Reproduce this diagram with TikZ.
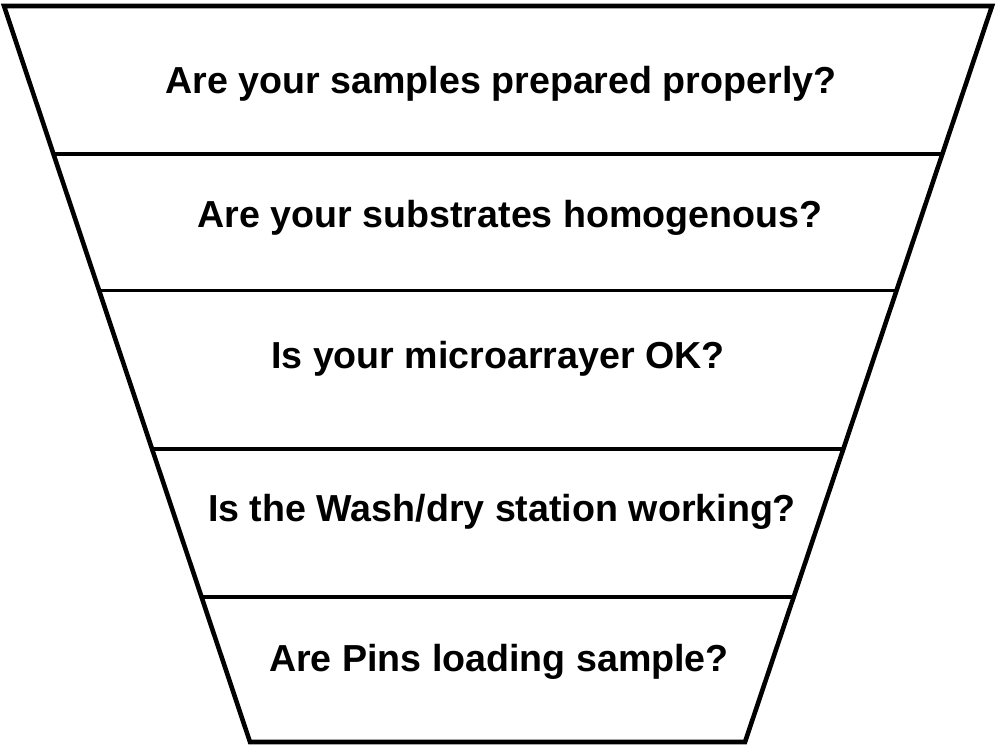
\documentclass[tikz,border=0pt]{standalone}
\usepackage{fontspec}
\setmainfont{Liberation Sans}
\usetikzlibrary{calc}
\tikzset{
  funnel/.style={
    line width=1.3pt,
    line join=miter
  },
  divider/.style={
    line width=0.9pt
  },
  question/.style={
    font=\fontsize{10.7}{12}\selectfont\bfseries,
    inner sep=0pt
  }
}
\begin{document}
\begin{tikzpicture}
    \useasboundingbox (0,0) rectangle (10,7.48);
    \coordinate (tl) at (0.04,7.42);
    \coordinate (tr) at (9.92,7.42);
    \coordinate (br) at (7.45,0.06);
    \coordinate (bl) at (2.50,0.06);
    \draw[funnel] (tl)--(tr)--(br)--(bl)--cycle;
    % dividers between the levels
    \foreach \t [count=\i] in {0.201,0.386,0.602,0.803}{
        \coordinate (l\i) at ($(tl)!\t!(bl)$);
        \coordinate (r\i) at ($(tr)!\t!(br)$);
        \draw[divider] (l\i)--(r\i);
    }
    \node[question] (q1) at (5.01,6.64) {Are your samples prepared properly?};
    \node[question] (q2) at (5.10,5.30) {Are your substrates homogenous?};
    \node[question] (q3) at (4.98,3.89) {Is your microarrayer OK?};
    \node[question] (q4) at (5.02,2.36) {Is the Wash/dry station working?};
    \node[question] (q5) at (4.99,0.86) {Are Pins loading sample?};
\end{tikzpicture}
\end{document}
